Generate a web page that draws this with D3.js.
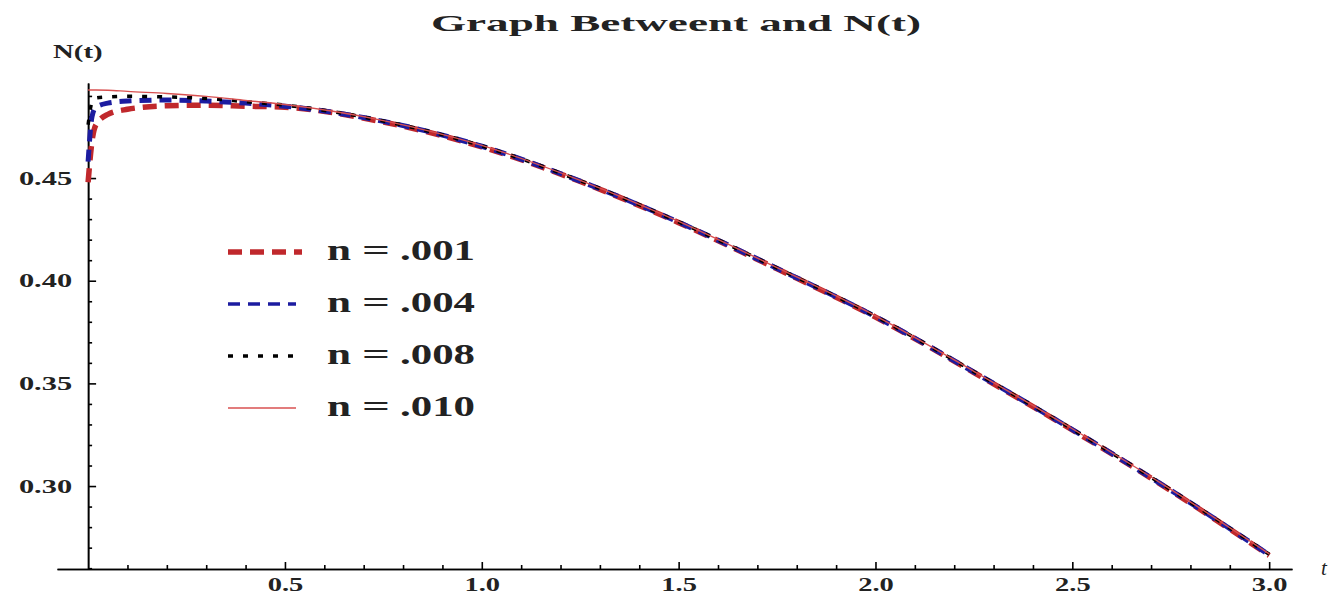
<html>
<head>
<meta charset="utf-8">
<title>Graph Betweent and N(t)</title>
<style>
  body { margin: 0; padding: 0; background: white; }
  svg text { font-family: "Liberation Serif", "DejaVu Serif", serif; font-weight: bold; fill: #222; }
  .axis path, .axis line { stroke: black; stroke-width: 1.6; }
</style>
</head>
<body>
<div id="chart"></div>
<script src="https://d3js.org/d3.v7.min.js"></script>
<script>
// values
var tValues = [0, 0.01, 0.02, 0.05, 0.1, 0.2, 0.3, 0.4, 0.5, 0.75, 1.0, 1.25, 1.5, 1.75, 2.0, 2.25, 2.5, 2.75, 3.0];
var n001 = [0.448, 0.468, 0.476, 0.481, 0.4835, 0.4852, 0.4855, 0.485, 0.4845, 0.4773, 0.4652, 0.4483, 0.4283, 0.4058, 0.3823, 0.3553, 0.3273, 0.2978, 0.2662];
var n004 = [0.458, 0.480, 0.4845, 0.4865, 0.4875, 0.488, 0.4875, 0.4865, 0.4850, 0.4776, 0.4655, 0.4485, 0.4285, 0.4060, 0.3825, 0.3555, 0.3275, 0.2980, 0.2665];
var n008 = [0.476, 0.487, 0.489, 0.4895, 0.4898, 0.4895, 0.4888, 0.4872, 0.4855, 0.4778, 0.4657, 0.4487, 0.4287, 0.4062, 0.3827, 0.3557, 0.3277, 0.2982, 0.2668];
var n010 = [0.4929, 0.4929, 0.4929, 0.4928, 0.4922, 0.4912, 0.4898, 0.4878, 0.4858, 0.4780, 0.4659, 0.4489, 0.4289, 0.4064, 0.3829, 0.3559, 0.3279, 0.2984, 0.2670];

var seriesNames = [".001", ".004", ".008", ".010"];
var xTicks = [0.5, 1.0, 1.5, 2.0, 2.5, 3.0];
var yTicks = [0.30, 0.35, 0.40, 0.45];

var width = 1344, height = 600;

var svg = d3.select("#chart").append("svg")
    .attr("width", width)
    .attr("height", height);

var x = d3.scaleLinear().domain([-0.079, 3.058]).range([57, 1292]);
var y = d3.scaleLinear().domain([0.2596, 0.4963]).range([569, 83]);

// stretch text horizontally like the (widened) original picture
function stretch(sel, k) {
    sel.each(function () {
        var w = this.getComputedTextLength();
        d3.select(this).attr("textLength", w * k).attr("lengthAdjust", "spacingAndGlyphs");
    });
}

// minor ticks
var xMinor = d3.range(1, 31).map(function (d) { return d / 10; }).filter(function (d) { return d * 2 % 1 !== 0; });
var yMinor = d3.range(26, 50).map(function (d) { return d / 100; }).filter(function (d) { return d * 20 % 1 !== 0; });

svg.append("g").attr("class", "axis")
    .attr("transform", "translate(0," + y(y.domain()[0]) + ")")
    .call(d3.axisBottom(x).tickValues(xMinor).tickSizeInner(-4).tickSizeOuter(0).tickFormat(""));

var xAxis = svg.append("g").attr("class", "axis")
    .attr("transform", "translate(0," + y(y.domain()[0]) + ")")
    .call(d3.axisBottom(x).tickValues(xTicks).tickSizeInner(-7).tickSizeOuter(0).tickPadding(9)
        .tickFormat(d3.format(".1f")));
xAxis.selectAll("text").style("font-size", "19px").attr("fill", "#222").call(stretch, 1.5);

svg.append("g").attr("class", "axis")
    .attr("transform", "translate(" + x(0) + ",0)")
    .call(d3.axisLeft(y).tickValues(yMinor).tickSizeInner(-4).tickSizeOuter(0).tickFormat(""));

var yAxis = svg.append("g").attr("class", "axis")
    .attr("transform", "translate(" + x(0) + ",0)")
    .call(d3.axisLeft(y).tickValues(yTicks).tickSizeInner(-8).tickSizeOuter(0).tickPadding(16)
        .tickFormat(d3.format(".2f")));
yAxis.selectAll("text").style("font-size", "19px").attr("fill", "#222").call(stretch, 1.6);

// curves
var styles = [
    { color: "#c0282c", width: 5.5, dash: "14,8" },
    { color: "#1c1ca0", width: 5, dash: "12,8" },
    { color: "#000000", width: 3.5, dash: "5,10" },
    { color: "#d85050", width: 1.4, dash: null }
];
var allSeries = [n001, n004, n008, n010];

var line = d3.line()
    .x(function (d) { return x(d[0]); })
    .y(function (d) { return y(d[1]); })
    .curve(d3.curveMonotoneX);

allSeries.forEach(function (vals, i) {
    var pts = tValues.map(function (t, j) { return [t, vals[j]]; });
    svg.append("path")
        .datum(pts)
        .attr("d", line)
        .attr("fill", "none")
        .attr("stroke", styles[i].color)
        .attr("stroke-width", styles[i].width)
        .attr("stroke-dasharray", styles[i].dash);
});

// legend
var legend = svg.append("g");
seriesNames.forEach(function (name, i) {
    var ly = 252 + i * 52;
    legend.append("line")
        .attr("x1", 228).attr("x2", i === 0 ? 302 : 296)
        .attr("y1", ly).attr("y2", ly)
        .attr("stroke", styles[i].color)
        .attr("stroke-width", i === 1 ? 3.5 : styles[i].width)
        .attr("stroke-dasharray", styles[i].dash);
    legend.append("text").attr("x", 327).attr("y", ly + 8)
        .style("font-size", "30px").attr("fill", "#1f2a78").text("n")
        .attr("textLength", 24).attr("lengthAdjust", "spacingAndGlyphs");
    legend.append("text").attr("x", 362).attr("y", ly + 8)
        .style("font-size", "30px").text("=")
        .attr("textLength", 28).attr("lengthAdjust", "spacingAndGlyphs");
    legend.append("text").attr("x", 400).attr("y", ly + 8)
        .style("font-size", "30px").text(name)
        .attr("textLength", 75).attr("lengthAdjust", "spacingAndGlyphs");
});

// title and axis labels
svg.append("text")
    .attr("x", 676).attr("y", 31)
    .attr("text-anchor", "middle")
    .style("font-size", "23px")
    .attr("textLength", 490).attr("lengthAdjust", "spacingAndGlyphs")
    .text("Graph Betweent and N(t)");

svg.append("text")
    .attr("x", 53).attr("y", 58)
    .style("font-size", "18px")
    .text("N(t)")
    .call(stretch, 1.6);

svg.append("text")
    .attr("x", 1321).attr("y", 575)
    .style("font-size", "21px")
    .style("font-style", "italic")
    .style("font-weight", "normal")
    .attr("fill", "#444")
    .text("t");
</script>
</body>
</html>
